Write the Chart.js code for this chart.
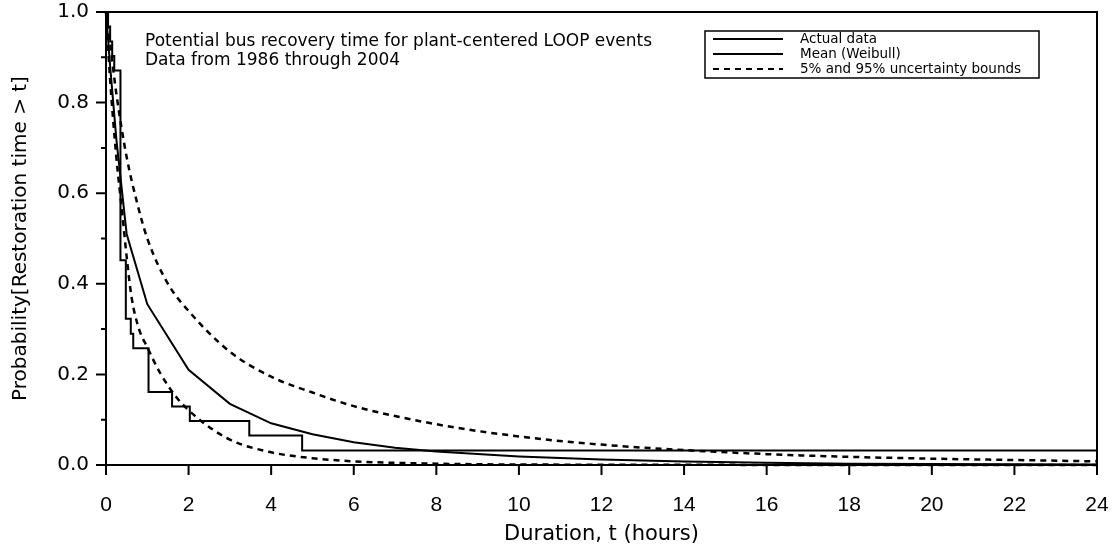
<!DOCTYPE html>
<html>
<head>
<meta charset="utf-8">
<script src="https://cdn.jsdelivr.net/npm/chart.js@4.4.1/dist/chart.umd.min.js"></script>
<style>
  html, body { margin: 0; padding: 0; background: #fff; }
</style>
</head>
<body>
<canvas id="chart" width="1117" height="556"></canvas>
<script>
// Actual data (empirical, stepped)
const actualT = [0, 0.05, 0.1, 0.15, 0.2, 0.28, 0.35, 0.48, 0.6, 0.66, 1.03, 1.6, 2.03, 3.47, 4.75, 24];
const actualP = [1.0, 0.968, 0.935, 0.903, 0.871, 0.871, 0.452, 0.323, 0.29, 0.258, 0.161, 0.129, 0.097, 0.065, 0.032, 0.032];

// Mean (Weibull)
const meanT = [0, 0.1, 0.25, 0.5, 1, 2, 3, 4, 5, 6, 7, 8, 10, 12, 14, 16, 18, 20, 24];
const meanP = [1.0, 0.88, 0.72, 0.51, 0.355, 0.21, 0.135, 0.092, 0.068, 0.05, 0.038, 0.03, 0.019, 0.012, 0.008, 0.005, 0.003, 0.002, 0.001];

// 95% bound
const upperT = [0, 0.1, 0.25, 0.5, 0.75, 1, 1.5, 2, 3, 4, 5, 6, 8, 10, 12, 14, 16, 18, 20, 22, 24];
const upperP = [1.0, 0.93, 0.82, 0.68, 0.58, 0.5, 0.4, 0.34, 0.25, 0.195, 0.16, 0.13, 0.09, 0.063, 0.045, 0.033, 0.024, 0.018, 0.014, 0.011, 0.008];

// 5% bound
const lowerT = [0, 0.1, 0.25, 0.4, 0.5, 0.62, 0.8, 1, 1.3, 1.7, 2.2, 3, 4, 5, 6, 8, 10, 24];
const lowerP = [1.0, 0.85, 0.68, 0.55, 0.46, 0.37, 0.3, 0.26, 0.205, 0.15, 0.105, 0.056, 0.028, 0.015, 0.008, 0.003, 0.001, 0.0];

const xTicks = [0, 2, 4, 6, 8, 10, 12, 14, 16, 18, 20, 22, 24];
const yTicks = [0, 0.2, 0.4, 0.6, 0.8, 1.0];
const yMinor = [0.1, 0.3, 0.5, 0.7, 0.9];

const noteLines = ['Potential bus recovery time for plant-centered LOOP events', 'Data from 1986 through 2004'];
const legendLabels = ['Actual data', 'Mean (Weibull)', '5% and 95% uncertainty bounds'];

const pts = (xs, ys) => xs.map((x, i) => ({ x: x, y: ys[i] }));

// frame, tick marks, note text and legend box
const extras = {
  id: 'extras',
  afterDraw(chart) {
    const ctx = chart.ctx;
    const a = chart.chartArea;
    const xs = chart.scales.x, ys = chart.scales.y;
    ctx.save();
    ctx.strokeStyle = '#000';
    ctx.lineWidth = 2;
    ctx.beginPath();
    ctx.moveTo(a.left, a.top); ctx.lineTo(a.right, a.top); ctx.lineTo(a.right, a.bottom);
    ctx.stroke();

    ctx.beginPath();
    xTicks.forEach(v => {
      const px = xs.getPixelForValue(v);
      ctx.moveTo(px, a.bottom); ctx.lineTo(px, a.bottom + 10);
    });
    yTicks.forEach(v => {
      const py = ys.getPixelForValue(v);
      ctx.moveTo(a.left - 10, py); ctx.lineTo(a.left, py);
    });
    yMinor.forEach(v => {
      const py = ys.getPixelForValue(v);
      ctx.moveTo(a.left - 5, py); ctx.lineTo(a.left, py);
    });
    ctx.stroke();

    // note
    ctx.fillStyle = '#000';
    ctx.font = '17px "DejaVu Sans"';
    ctx.textBaseline = 'middle';
    ctx.textAlign = 'left';
    ctx.fillText(noteLines[0], 145, 42);
    ctx.fillText(noteLines[1], 145, 61);

    // legend
    ctx.fillStyle = '#fff';
    ctx.fillRect(705, 31, 334, 47);
    ctx.lineWidth = 1.5;
    ctx.strokeRect(705, 31, 334, 47);
    const rowsY = [39, 54, 69];
    chart.data.datasets.slice(0, 3).forEach((ds, i) => {
      ctx.beginPath();
      ctx.lineWidth = 2;
      ctx.setLineDash(ds.borderDash || []);
      ctx.moveTo(713, rowsY[i]); ctx.lineTo(783, rowsY[i]);
      ctx.stroke();
      ctx.setLineDash([]);
      ctx.fillStyle = '#000';
      ctx.font = '13.5px "DejaVu Sans"';
      ctx.fillText(legendLabels[i], 800, rowsY[i]);
    });
    ctx.restore();
  }
};

new Chart(document.getElementById('chart'), {
  type: 'line',
  data: {
    datasets: [
      { label: legendLabels[0], data: pts(actualT, actualP), stepped: true, borderColor: '#000', borderWidth: 2, pointRadius: 0, fill: false },
      { label: legendLabels[1], data: pts(meanT, meanP), borderColor: '#000', borderWidth: 2, pointRadius: 0, tension: 0, fill: false },
      { label: legendLabels[2], data: pts(upperT, upperP), borderColor: '#000', borderWidth: 2.5, borderDash: [6, 5], pointRadius: 0, tension: 0.3, cubicInterpolationMode: 'monotone', fill: false },
      { label: '5%', data: pts(lowerT, lowerP), borderColor: '#000', borderWidth: 2.5, borderDash: [6, 5], pointRadius: 0, tension: 0.3, cubicInterpolationMode: 'monotone', fill: false }
    ]
  },
  options: {
    responsive: false,
    animation: false,
    devicePixelRatio: 1,
    clip: false,
    layout: { padding: { top: 12, right: 20, left: 0, bottom: 0 } },
    plugins: { legend: { display: false }, tooltip: { enabled: false } },
    scales: {
      x: {
        type: 'linear', min: 0, max: 24,
        afterFit: s => { s.height = 91; s.paddingLeft = 0; s.paddingRight = 0; },
        afterBuildTicks: s => { s.ticks = xTicks.map(v => ({ value: v })); },
        grid: { display: false, drawTicks: false },
        border: { display: true, color: '#000', width: 2 },
        ticks: { color: '#000', padding: 28, maxRotation: 0, font: { family: 'Liberation Sans', size: 21 } },
        title: { display: true, text: 'Duration, t (hours)', color: '#000', padding: { top: 4, bottom: 9 }, font: { family: 'DejaVu Sans', size: 21 } }
      },
      y: {
        min: 0, max: 1,
        afterFit: s => { s.width = 106; s.paddingTop = 0; s.paddingBottom = 0; },
        afterBuildTicks: s => { s.ticks = yTicks.map(v => ({ value: v })); },
        grid: { display: false, drawTicks: false },
        border: { display: true, color: '#000', width: 2 },
        ticks: { color: '#000', padding: 17, callback: v => v.toFixed(1), font: { family: 'DejaVu Sans', size: 20 } },
        title: { display: true, text: 'Probability[Restoration time > t]', color: '#000', padding: 9, font: { family: 'DejaVu Sans', size: 20 } }
      }
    }
  },
  plugins: [extras]
});
</script>
</body>
</html>
